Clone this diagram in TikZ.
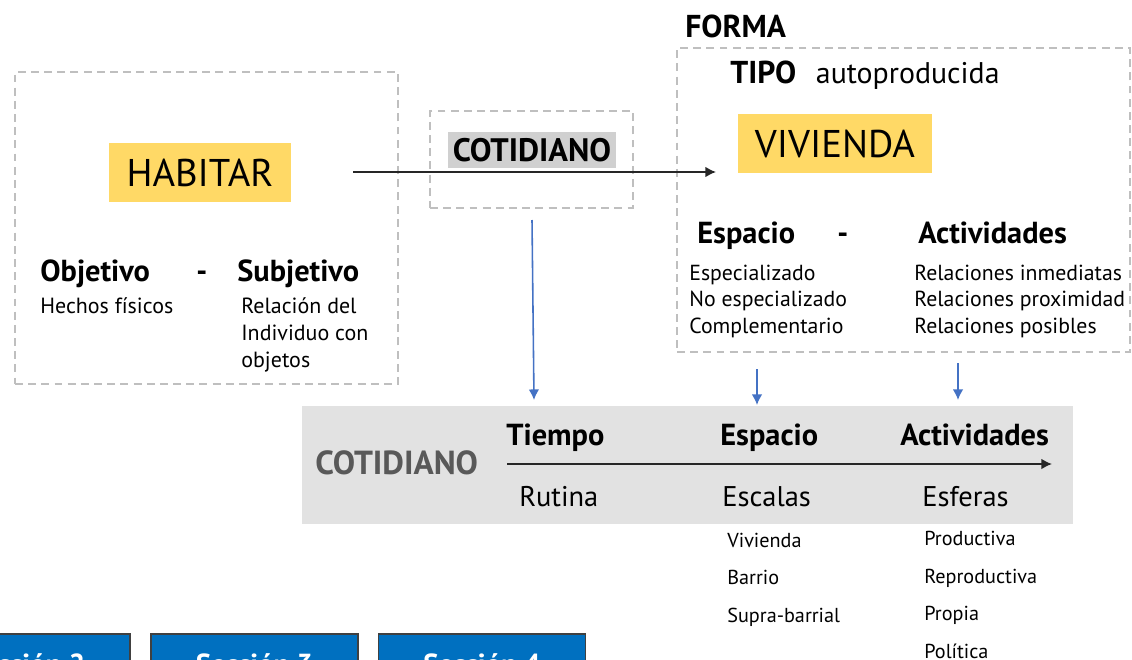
\documentclass[tikz,border=0pt]{standalone}
\usepackage{fontspec}
\setmainfont{PT Sans}
\usetikzlibrary{arrows.meta,fit,positioning}
\definecolor{frameColor}{RGB}{191,191,191}
\definecolor{keywordColor}{RGB}{255,217,102}
\definecolor{bandColor}{RGB}{226,226,226}
\definecolor{markColor}{RGB}{208,208,208}
\definecolor{linkColor}{RGB}{68,114,196}
\definecolor{tabColor}{RGB}{0,112,192}
\definecolor{arrowColor}{RGB}{38,38,38}
\definecolor{bandText}{RGB}{89,89,89}
\tikzset{panel/.style={draw=frameColor, line width=0.8pt, dash pattern=on 4.5pt off 3pt, inner sep=0pt}}
\tikzset{keyword/.style={fill=keywordColor, inner sep=0pt, minimum height=1.18cm, font=\fontsize{22}{26}\selectfont}}
\tikzset{heading/.style={inner sep=0pt, anchor=base west, font=\bfseries\fontsize{17.3}{20}\selectfont}}
\tikzset{entry/.style={inner sep=0pt, anchor=base west, align=left, font=\fontsize{12.5}{15.3}\selectfont}}
\tikzset{listing/.style={entry, font=\fontsize{11.5}{21.3}\selectfont}}
\tikzset{reading/.style={inner sep=0pt, anchor=base west, font=\fontsize{16.2}{18}\selectfont}}
\tikzset{tabbutton/.style={fill=tabColor, draw=black!75, line width=0.6pt, text=white, minimum width=4.14cm, minimum height=1.22cm, font=\bfseries\fontsize{16.5}{20}\selectfont}}
\tikzset{flowline/.style={draw=arrowColor, line width=0.9pt, -{Latex[length=6pt, width=6pt]}}}
\tikzset{linkline/.style={draw=linkColor, line width=0.9pt, -{Latex[length=6pt, width=6pt]}}}

\begin{document}
\begin{tikzpicture}[x=0.02cm, y=-0.02cm]
\useasboundingbox (0,0) rectangle (1132,659);
\clip (0,0) rectangle (1132,659);

% Habitar
\node (HabitarFrame) [panel, fit={(15,72) (398,384)}] {};
\node (Habitar) [keyword, minimum width=3.64cm] at (200,172.5) {HABITAR};
\node (Objetivo) [heading] at (40,281) {Objetivo};
\node (ObjetivoDash) [heading] at (196,281) {-};
\node (Subjetivo) [heading] at (237,281) {Subjetivo};
\node (Hechos) [entry] at (40,313) {Hechos físicos};
% base of a multi-line node is its last line
\node (Relacion) [entry] at (241,367) {Relación del\\ Individuo con\\ objetos};

% Cotidiano
\node (CotidianoFrame) [panel, fit={(430,111) (633,208)}] {};
\node (Cotidiano) [fill=markColor, inner sep=0pt, minimum width=3.36cm, minimum height=0.72cm, font=\bfseries\fontsize{18.5}{20}\selectfont] at (532,150) {COTIDIANO};

% Forma
\node (Forma) [heading, font=\bfseries\fontsize{18}{20}\selectfont] at (685,37) {FORMA};
\node (FormaFrame) [panel, fit={(677,48) (1130,352)}] {};
\node (Tipo) [heading, font=\bfseries\fontsize{18}{20}\selectfont] at (730,83) {TIPO};
\node (Autoproducida) [base right=0.38cm of Tipo, inner sep=0pt, font=\fontsize{17}{20}\selectfont] {autoproducida};
\node (Vivienda) [keyword, minimum width=3.88cm] at (835,143.5) {VIVIENDA};
\node (Espacio) [heading] at (697,243) {Espacio};
\node (EspacioDash) [heading] at (837,243) {-};
\node (Actividades) [heading] at (918,243) {Actividades};
\node (EspacioList) [entry, font=\fontsize{12.4}{15}\selectfont] at (689,333) {Especializado\\ No especializado\\ Complementario};
\node (ActividadesList) [entry, font=\fontsize{12.4}{15}\selectfont] at (914,333) {Relaciones inmediatas\\ Relaciones proximidad\\ Relaciones posibles};

% Band
\node (Band) [fill=bandColor, inner sep=0pt, fit={(302,406) (1073,524)}] {};
\node (BandTitle) [heading, text=bandText, font=\bfseries\fontsize{19}{20}\selectfont] at (315,474) {COTIDIANO};
\node (Tiempo) [heading] at (506,445) {Tiempo};
\node (BandEspacio) [heading] at (720,445) {Espacio};
\node (BandActividades) [heading] at (900,445) {Actividades};
\node (Rutina) [reading] at (519,506) {Rutina};
\node (Escalas) [reading] at (722,506) {Escalas};
\node (Esferas) [reading] at (922,506) {Esferas};
\node (EscalasList) [listing] at (727,622) {Vivienda\\ Barrio\\ Supra-barrial};
\node (EsferasList) [listing] at (924,658) {Productiva\\ Reproductiva\\ Propia\\ Política};

% Tabs
\node (Seccion2) [tabbutton] at (26.5,664.5) {Sección 2};
\node (Seccion3) [tabbutton] at (254.5,664.5) {Sección 3};
\node (Seccion4) [tabbutton] at (482,664.5) {Sección 4};

% Connectors
\coordinate (HabitarOut) at (353,172);
\coordinate (ViviendaIn) at (716,172);
\coordinate (CotidianoOut) at (532,220);
\coordinate (TiempoIn) at (534,400);
\coordinate (EspacioOut) at (757,369);
\coordinate (EspacioIn) at (757,405);
\coordinate (ActividadesOut) at (958,363);
\coordinate (ActividadesIn) at (958,400);
\coordinate (BandStart) at (507,464);
\coordinate (BandEnd) at (1052,464);

\draw [flowline] (HabitarOut) -- (ViviendaIn);
\draw [flowline] (BandStart) -- (BandEnd);
\draw [linkline] (CotidianoOut) -- (TiempoIn);
\draw [linkline] (EspacioOut) -- (EspacioIn);
\draw [linkline] (ActividadesOut) -- (ActividadesIn);

\end{tikzpicture}
\end{document}
